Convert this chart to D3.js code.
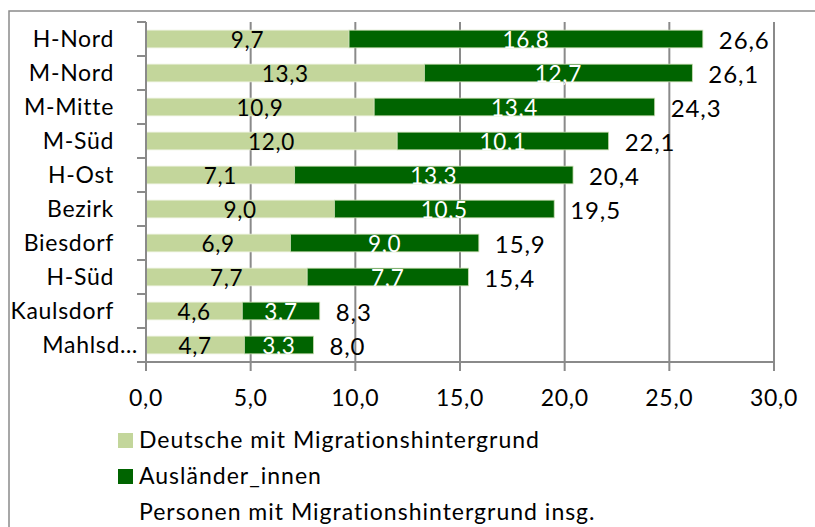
<!DOCTYPE html>
<html>
<head>
<meta charset="utf-8">
<script src="https://cdn.jsdelivr.net/npm/d3@7"></script>
<style>
  body { margin: 0; background: #fff; }
  svg text { font-family: Lato, "Open Sans", sans-serif; letter-spacing: 0.7px; }
</style>
</head>
<body>
<svg width="815" height="527"></svg>
<script>
// data (Anteil in %)
const categories = ["H-Nord", "M-Nord", "M-Mitte", "M-Süd", "H-Ost", "Bezirk", "Biesdorf", "H-Süd", "Kaulsdorf", "Mahlsd…"];
const deutsche = [9.7, 13.3, 10.9, 12.0, 7.1, 9.0, 6.9, 7.7, 4.6, 4.7];
const auslaender = [16.8, 12.7, 13.4, 10.1, 13.3, 10.5, 9.0, 7.7, 3.7, 3.3];
const insgesamt = [26.6, 26.1, 24.3, 22.1, 20.4, 19.5, 15.9, 15.4, 8.3, 8.0];
const xTicks = [0, 5, 10, 15, 20, 25, 30];
const seriesNames = ["Deutsche mit Migrationshintergrund", "Ausländer_innen", "Personen mit Migrationshintergrund insg."];

const lightGreen = "#c3d69b";
const darkGreen = "#006400";
const gridColor = "#8a8a8a";

let svg = d3.select("svg");
const fmt = (v) => d3.format(".1f")(v).replace(".", ",");

// outer chart border
svg.append("rect")
  .attr("x", 9).attr("y", 11)
  .attr("width", 815).attr("height", 530)
  .attr("fill", "none")
  .attr("stroke", gridColor)
  .attr("stroke-width", 1.5);

const plot = { left: 146, right: 774, top: 22, bottom: 362 };

let x = d3.scaleLinear().domain([0, 30]).range([plot.left, plot.right]);
let y = d3.scaleBand().domain(categories).range([plot.top, plot.bottom]).paddingInner(0.48).paddingOuter(0.24);
let band = d3.scaleBand().domain(categories).range([plot.top, plot.bottom]);

const rows = categories.map((c, i) => ({
  cat: c, d: deutsche[i], a: auslaender[i], t: insgesamt[i]
}));

let g = svg.append("g");

// vertical gridlines
g.append("g")
  .selectAll("line")
  .data(xTicks)
  .enter()
  .append("line")
  .attr("x1", (d) => x(d)).attr("x2", (d) => x(d))
  .attr("y1", plot.top).attr("y2", plot.bottom + 9)
  .attr("stroke", gridColor)
  .attr("stroke-width", 2);

// x axis line
g.append("line")
  .attr("x1", plot.left).attr("x2", plot.right)
  .attr("y1", plot.bottom).attr("y2", plot.bottom)
  .attr("stroke", gridColor).attr("stroke-width", 2);

// y axis ticks at band boundaries
const boundaries = categories.map((c) => band(c)).concat([plot.bottom]);
g.append("g")
  .selectAll("line")
  .data(boundaries)
  .enter()
  .append("line")
  .attr("x1", plot.left - 9).attr("x2", plot.left)
  .attr("y1", (d) => d).attr("y2", (d) => d)
  .attr("stroke", gridColor).attr("stroke-width", 2);

// light segment
g.append("g")
  .selectAll("rect")
  .data(rows)
  .enter()
  .append("rect")
  .attr("x", x(0))
  .attr("y", (d) => y(d.cat))
  .attr("width", (d) => x(d.d) - x(0))
  .attr("height", y.bandwidth())
  .attr("fill", lightGreen)
  .attr("stroke", "#e6eed5").attr("stroke-width", 0.8);

// dark segment (ends at the unrounded total)
g.append("g")
  .selectAll("rect")
  .data(rows)
  .enter()
  .append("rect")
  .attr("x", (d) => x(d.d))
  .attr("y", (d) => y(d.cat))
  .attr("width", (d) => x(d.t) - x(d.d))
  .attr("height", y.bandwidth())
  .attr("fill", darkGreen)
  .attr("stroke", "#c9dcb0").attr("stroke-width", 0.8);

// y axis line drawn over the bars
g.append("line")
  .attr("x1", plot.left).attr("x2", plot.left)
  .attr("y1", plot.top).attr("y2", plot.bottom)
  .attr("stroke", gridColor).attr("stroke-width", 2);

const mid = (c) => y(c) + y.bandwidth() / 2;

// value labels
g.append("g")
  .selectAll("text")
  .data(rows)
  .enter()
  .append("text")
  .attr("x", (d) => (x(0) + x(d.d)) / 2)
  .attr("y", (d) => mid(d.cat) + 8.5)
  .attr("text-anchor", "middle")
  .attr("font-size", 22.5)
  .attr("fill", "#000")
  .text((d) => fmt(d.d));

g.append("g")
  .selectAll("text")
  .data(rows)
  .enter()
  .append("text")
  .attr("x", (d) => (x(d.d) + x(d.t)) / 2)
  .attr("y", (d) => mid(d.cat) + 8.5)
  .attr("text-anchor", "middle")
  .attr("font-size", 22.5)
  .attr("fill", "#fff")
  .text((d) => fmt(d.a));

g.append("g")
  .selectAll("text")
  .data(rows)
  .enter()
  .append("text")
  .attr("x", (d) => x(d.t) + 16)
  .attr("y", (d) => mid(d.cat) + 9.5)
  .attr("font-size", 24)
  .style("letter-spacing", "0.9px")
  .attr("fill", "#000")
  .text((d) => fmt(d.t));

// category labels
g.append("g")
  .selectAll("text")
  .data(categories)
  .enter()
  .append("text")
  .attr("x", (d) => d.endsWith("…") ? plot.left - 8 : plot.left - 32)
  .attr("y", (d) => mid(d) + 8)
  .attr("text-anchor", "end")
  .attr("font-size", 23)
  .attr("fill", "#000")
  .text((d) => d);

// x tick labels
g.append("g")
  .selectAll("text")
  .data(xTicks)
  .enter()
  .append("text")
  .attr("x", (d) => x(d))
  .attr("y", 406)
  .attr("text-anchor", "middle")
  .attr("font-size", 23)
  .attr("fill", "#000")
  .text((d) => fmt(d));

// legend
const legendColors = [lightGreen, darkGreen, null];
let legend = svg.append("g")
  .selectAll("g")
  .data(seriesNames)
  .enter()
  .append("g")
  .attr("transform", (d, i) => `translate(118, ${448 + i * 36})`);

legend.filter((d, i) => legendColors[i])
  .append("rect")
  .attr("x", 0).attr("y", -15)
  .attr("width", 15).attr("height", 15)
  .attr("fill", (d, i) => legendColors[seriesNames.indexOf(d)]);

legend.append("text")
  .attr("x", 21).attr("y", 0)
  .attr("font-size", 23)
  .style("letter-spacing", "1px")
  .attr("fill", "#000")
  .text((d) => d);
</script>
</body>
</html>
